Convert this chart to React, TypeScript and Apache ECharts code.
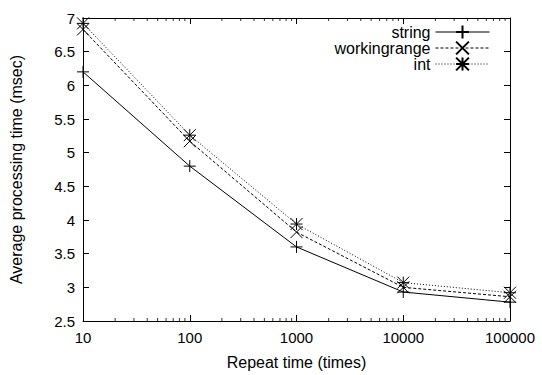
import React, { useEffect, useRef } from "react";
import * as echarts from "echarts";

const repeatTimes = [10, 100, 1000, 10000, 100000];
const stringTimes = [6.2, 4.8, 3.6, 2.93, 2.78];
const workingrangeTimes = [6.83, 5.17, 3.82, 3.0, 2.86];
const intTimes = [6.92, 5.26, 3.94, 3.07, 2.92];
const minorTickValues = [
  20, 30, 40, 50, 60, 70, 80, 90,
  200, 300, 400, 500, 600, 700, 800, 900,
  2000, 3000, 4000, 5000, 6000, 7000, 8000, 9000,
  20000, 30000, 40000, 50000, 60000, 70000, 80000, 90000,
];
const yMin = 2.5;
const yMax = 7;
const yInterval = 0.5;
const xMin = 10;
const xMax = 100000;

const FONT = "'Liberation Sans', Arial, Helvetica, sans-serif";

const plusSym = "path://M5,0L5,10M0,5L10,5";
const crossSym = "path://M0,0L10,10M10,0L0,10";
const starSym = "path://M5,0L5,10M0,5L10,5M0,0L10,10M10,0L0,10";

function lineSeries(name: string, values: number[], symbol: string, dash: any) {
  return {
    name,
    type: "line",
    xAxisIndex: 0,
    yAxisIndex: 0,
    data: repeatTimes.map((x, i) => [x, values[i]]),
    symbol,
    symbolSize: 12,
    showAllSymbol: true,
    lineStyle: { color: "#000", width: 1, type: dash },
    itemStyle: { color: "#000", borderColor: "#000", borderWidth: 1 },
    emphasis: { disabled: true },
    clip: false,
    z: 3,
  };
}

function minorTicks(name: string, y: number, offset: number) {
  return {
    name,
    type: "scatter",
    xAxisIndex: 0,
    yAxisIndex: 0,
    data: minorTickValues.map((v) => [v, y]),
    symbol: "rect",
    symbolSize: [1, 3],
    symbolOffset: [0, offset],
    itemStyle: { color: "#000" },
    emphasis: { disabled: true },
    silent: true,
    clip: false,
    z: 2,
  };
}

export default function App() {
  const ref = useRef<HTMLDivElement>(null);
  useEffect(() => {
    if (!ref.current) return;
    const chart = echarts.init(ref.current, null, { renderer: "svg" });
    const axisLine = { show: true, lineStyle: { color: "#000", width: 1 } };
    chart.setOption({
      animation: false,
      backgroundColor: "#fff",
      textStyle: { fontFamily: FONT, color: "#000" },
      grid: { left: 83, right: 32, top: 18, bottom: 50 },
      legend: {
        data: ["string", "workingrange", "int"],
        orient: "vertical",
        right: 47,
        top: 19,
        align: "right",
        itemWidth: 54,
        itemHeight: 16,
        itemGap: 0,
        selectedMode: false,
        lineStyle: { width: 1 },
        textStyle: { fontSize: 16, color: "#000", fontFamily: FONT },
      },
      xAxis: [
        {
          type: "log",
          logBase: 10,
          min: xMin,
          max: xMax,
          position: "bottom",
          name: "Repeat time (times)",
          nameLocation: "middle",
          nameGap: 33,
          nameTextStyle: { fontSize: 16, color: "#000", fontFamily: FONT },
          axisLine,
          axisTick: { show: true, inside: true, length: 6, lineStyle: { color: "#000" } },
          axisLabel: {
            fontSize: 15,
            color: "#000",
            margin: 9,
            fontFamily: FONT,
            formatter: (v: number) => String(Math.round(v)),
          },
          splitLine: { show: false },
          minorTick: { show: false },
        },
        {
          type: "log",
          logBase: 10,
          min: xMin,
          max: xMax,
          position: "top",
          axisLine,
          axisTick: { show: true, inside: true, length: 6, lineStyle: { color: "#000" } },
          axisLabel: { show: false },
          splitLine: { show: false },
        },
      ],
      yAxis: [
        {
          type: "value",
          min: yMin,
          max: yMax,
          interval: yInterval,
          position: "left",
          name: "Average processing time (msec)",
          nameLocation: "middle",
          nameGap: 59,
          nameTextStyle: { fontSize: 16, color: "#000", fontFamily: FONT },
          axisLine,
          axisTick: { show: true, inside: true, length: 6, lineStyle: { color: "#000" } },
          axisLabel: { fontSize: 15, color: "#000", margin: 8, fontFamily: FONT },
          splitLine: { show: false },
        },
        {
          type: "value",
          min: yMin,
          max: yMax,
          interval: yInterval,
          position: "right",
          axisLine,
          axisTick: { show: true, inside: true, length: 6, lineStyle: { color: "#000" } },
          axisLabel: { show: false },
          splitLine: { show: false },
        },
      ],
      series: [
        lineSeries("string", stringTimes, plusSym, "solid"),
        lineSeries("workingrange", workingrangeTimes, crossSym, [3, 2]),
        lineSeries("int", intTimes, starSym, [1, 2]),
        minorTicks("minorBottom", yMin, -1.5),
        minorTicks("minorTop", yMax, 1.5),
      ],
    });
    return () => chart.dispose();
  }, []);
  return (
    <div
      ref={ref}
      style={{ position: "fixed", left: 0, top: 0, width: 542, height: 375 }}
    />
  );
}
